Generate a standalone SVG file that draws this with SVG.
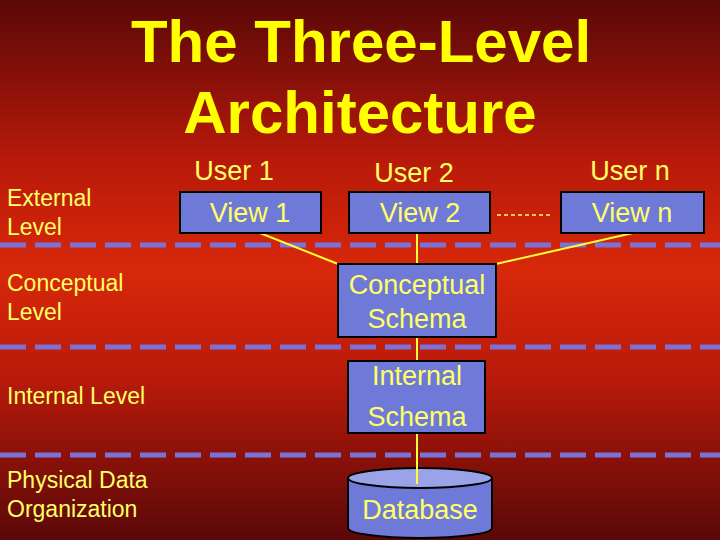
<svg xmlns="http://www.w3.org/2000/svg" width="720" height="540" viewBox="0 0 720 540">
<defs>
<linearGradient id="bg" x1="0" y1="0" x2="0" y2="1">
<stop offset="0" stop-color="#5a0808"/>
<stop offset="0.3" stop-color="#b81a0a"/>
<stop offset="0.5" stop-color="#d8280a"/>
<stop offset="0.7" stop-color="#b81a0a"/>
<stop offset="1" stop-color="#5a0808"/>
</linearGradient>
<style>
.box{fill:#6f7ad8;stroke:#000;stroke-width:2}
.t{font-family:"Liberation Sans",Arial,sans-serif;fill:#ffff66;font-size:27px;text-anchor:middle}
.lbl{font-family:"Liberation Sans",Arial,sans-serif;fill:#ffff66;font-size:23px}
.dash{stroke:#7a72d8;stroke-width:5;stroke-dasharray:26 9}
.con{stroke:#ffff33;stroke-width:2;fill:none}
.title{font-family:"Liberation Sans",Arial,sans-serif;font-weight:bold;font-size:60px;fill:#ffff00;text-anchor:middle}
</style>
</defs>
<rect width="720" height="540" fill="url(#bg)"/>
<text class="title" x="361" y="62">The Three-Level</text>
<text class="title" x="360" y="133">Architecture</text>
<g id="dashes">
<line class="dash" x1="0" y1="245" x2="720" y2="245"/>
<line class="dash" x1="0" y1="347" x2="720" y2="347"/>
<line class="dash" x1="0" y1="455" x2="720" y2="455"/>
</g>
<g id="levels">
<text class="lbl" x="7" y="206">External</text>
<text class="lbl" x="7" y="235">Level</text>
<text class="lbl" x="7" y="291">Conceptual</text>
<text class="lbl" x="7" y="320">Level</text>
<text class="lbl" x="7" y="404">Internal Level</text>
<text class="lbl" x="7" y="488">Physical Data</text>
<text class="lbl" x="7" y="517">Organization</text>
</g>
<g id="connectors">
<line class="con" x1="260" y1="233" x2="338" y2="264"/>
<line class="con" x1="417" y1="233" x2="417" y2="264"/>
<line class="con" x1="633" y1="233" x2="496" y2="264"/>
<line class="con" x1="417" y1="337" x2="417" y2="361"/>
<line class="con" x1="417" y1="433" x2="417" y2="480"/>
<line x1="497" y1="215" x2="552" y2="215" stroke="#ffff66" stroke-width="1.5" stroke-dasharray="4 3"/>
</g>
<g id="user1"><text class="t" x="234" y="180">User 1</text></g>
<g id="user2"><text class="t" x="414" y="182">User 2</text></g>
<g id="usern"><text class="t" x="630" y="180">User n</text></g>
<g id="view1"><rect class="box" x="180" y="192" width="141" height="41"/><text class="t" x="250" y="222">View 1</text></g>
<g id="view2"><rect class="box" x="349" y="192" width="141" height="41"/><text class="t" x="420" y="222">View 2</text></g>
<g id="viewn"><rect class="box" x="561" y="192" width="143" height="41"/><text class="t" x="632" y="222">View n</text></g>
<g id="conceptual"><rect class="box" x="338" y="264" width="158" height="73"/><text class="t" x="417" y="294">Conceptual</text><text class="t" x="417" y="328">Schema</text></g>
<g id="internal"><rect class="box" x="348" y="361" width="137" height="72"/><text class="t" x="417" y="385">Internal</text><text class="t" x="417" y="426">Schema</text></g>
<g id="database">
<path class="box" d="M348,478 L348,528 A72,10 0 0 0 492,528 L492,478"/>
<ellipse cx="420" cy="478" rx="72" ry="10" fill="#9aa2e8" stroke="#000" stroke-width="2"/>
<line class="con" x1="417" y1="466" x2="417" y2="484"/>
<text class="t" x="420" y="519">Database</text>
</g>
</svg>
